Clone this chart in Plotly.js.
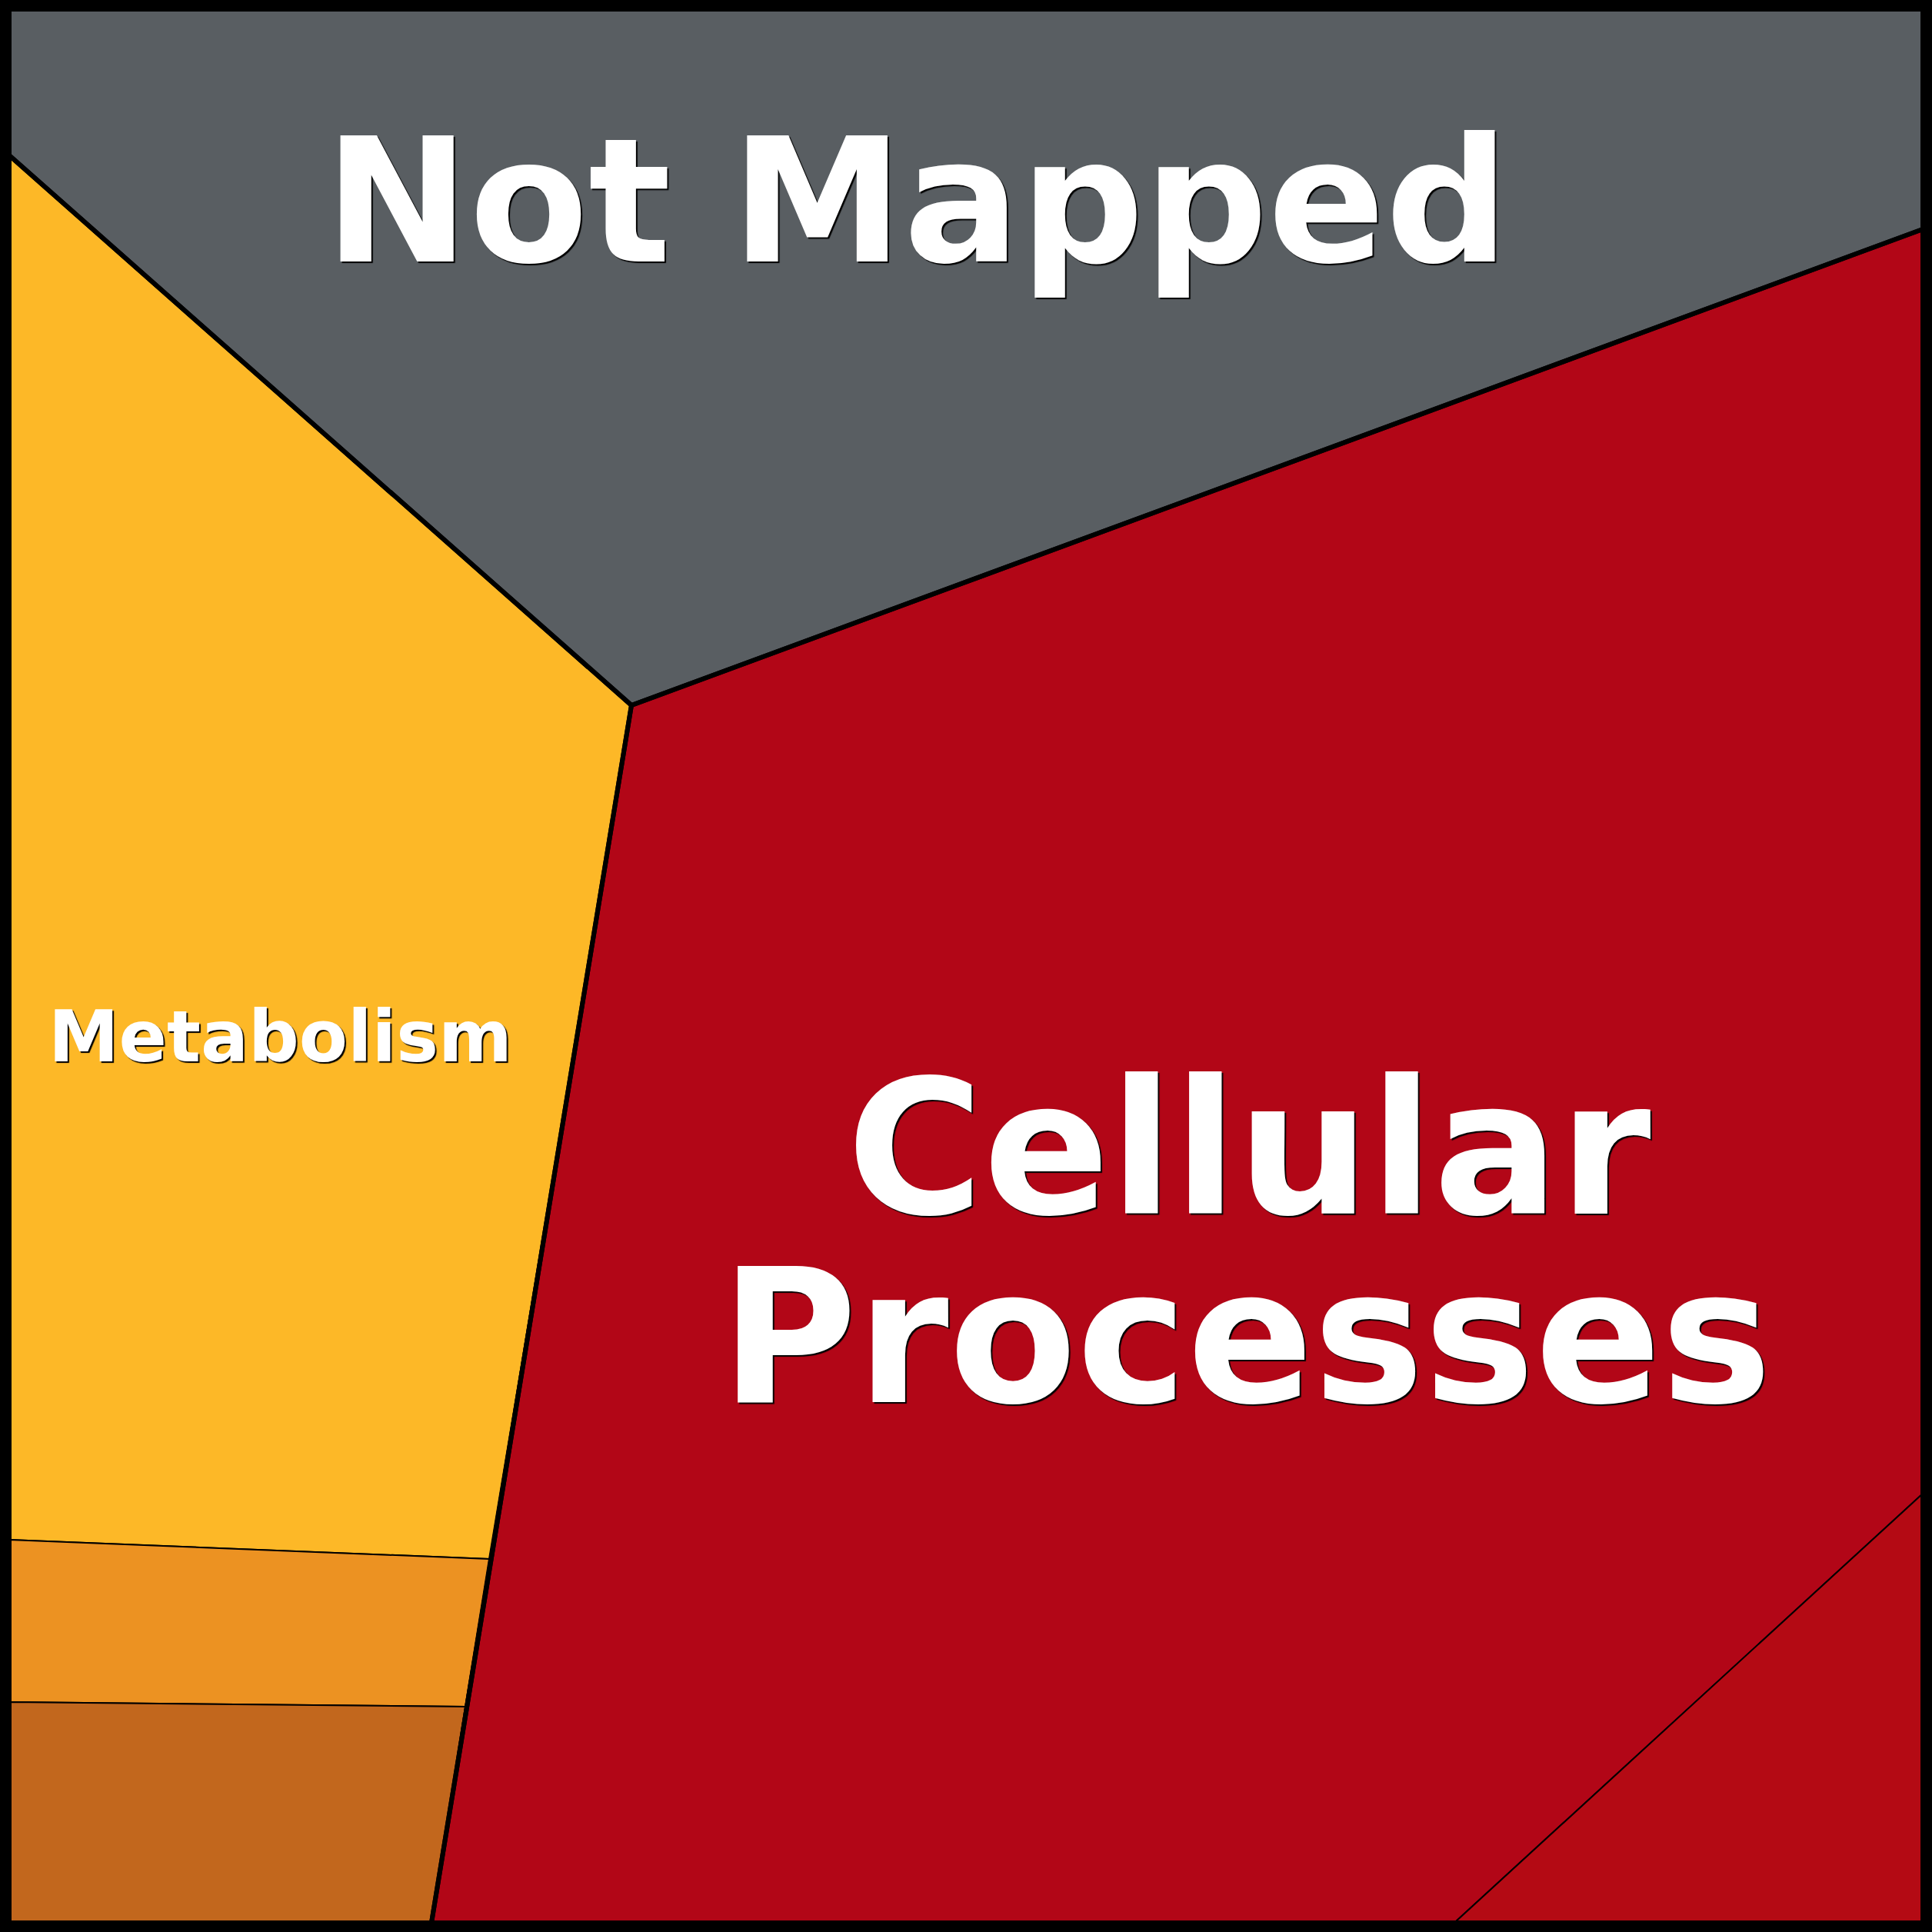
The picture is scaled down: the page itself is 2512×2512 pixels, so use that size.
<!DOCTYPE html>
<html>
<head>
<meta charset="utf-8">
<script src="https://cdn.plot.ly/plotly-3.0.1.min.js"></script>
<style>html,body{margin:0;padding:0;background:#fff;}#chart{width:2512px;height:2512px;}</style>
</head>
<body>
<div id="chart"></div>
<script>
// Voronoi treemap cells (leaf level)
const cellNames = ["Not Mapped", "Metabolism A", "Metabolism B", "Metabolism C", "Cellular Processes A", "Cellular Processes B"];
const cellGroups = ["Not Mapped", "Metabolism", "Metabolism", "Metabolism", "Cellular Processes", "Cellular Processes"];
const cellX = [
  [12, 2500, 2500, 821, 12],
  [12, 821, 636, 12],
  [12, 636, 605, 12],
  [12, 605, 561, 12],
  [821, 2500, 2500, 1891, 561],
  [2500, 2500, 1891]
];
const cellY = [
  [12, 12, 298, 917, 202],
  [202, 917, 2027, 2002],
  [2002, 2027, 2219, 2213],
  [2213, 2219, 2500, 2500],
  [917, 298, 1942, 2500, 2500],
  [1942, 2500, 2500]
];
const cellColors = ["#595e62", "#fdb827", "#ec9222", "#c2671d", "#b20617", "#b40a14"];

// Top-level group outlines
const groupNames = ["Not Mapped", "Metabolism", "Cellular Processes"];
const groupX = [
  [12, 2500, 2500, 821, 12],
  [12, 821, 561, 12],
  [821, 2500, 2500, 561]
];
const groupY = [
  [12, 12, 298, 917, 202],
  [202, 917, 2500, 2500],
  [917, 298, 2500, 2500]
];

// Labels
const labelText = ["Not Mapped", "Metabolism", "Cellular", "Processes"];
const labelX = [1192, 364, 1624, 1620];
const labelY = [262, 1348, 1494, 1739];
const labelSize = [225, 92, 242, 242];

const traces = [];
cellNames.forEach((n, i) => {
  traces.push({
    type: "scatter", mode: "lines", name: n,
    x: cellX[i].concat([cellX[i][0]]), y: cellY[i].concat([cellY[i][0]]),
    fill: "toself", fillcolor: cellColors[i],
    line: {color: "#000", width: 2}, hoverinfo: "skip", showlegend: false
  });
});
groupNames.forEach((n, i) => {
  traces.push({
    type: "scatter", mode: "lines", name: n,
    x: groupX[i].concat([groupX[i][0]]), y: groupY[i].concat([groupY[i][0]]),
    line: {color: "#000", width: 6}, hoverinfo: "skip", showlegend: false
  });
});

const annotations = labelText.map((t, i) => ({
  text: "<b>" + t + "</b>", x: labelX[i], y: labelY[i], xref: "x", yref: "y",
  showarrow: false, xanchor: "center", yanchor: "middle",
  font: {family: "DejaVu Sans", size: labelSize[i], color: "#ffffff", shadow: "2px 2px 1px #000"}
}));

const layout = {
  width: 2512, height: 2512,
  margin: {l: 0, r: 0, t: 0, b: 0, pad: 0},
  paper_bgcolor: "#ffffff", plot_bgcolor: "#ffffff",
  xaxis: {range: [0, 2512], visible: false, fixedrange: true},
  yaxis: {range: [2512, 0], visible: false, fixedrange: true},
  showlegend: false, hovermode: false,
  annotations: annotations,
  shapes: [{type: "rect", xref: "x", yref: "y", x0: 6, y0: 6, x1: 2506, y1: 2506,
    line: {color: "#000", width: 12}, fillcolor: "rgba(0,0,0,0)", layer: "above"}]
};

Plotly.newPlot("chart", traces, layout, {displayModeBar: false, staticPlot: true});
</script>
</body>
</html>
